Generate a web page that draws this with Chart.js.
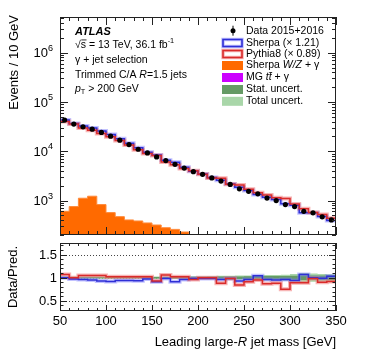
<!DOCTYPE html>
<html>
<head>
<meta charset="utf-8">
<script src="https://cdn.jsdelivr.net/npm/chart.js@4.4.1/dist/chart.umd.min.js"></script>
<style>
  body { margin: 0; background: #fff; }
  #wrap { position: relative; width: 374px; height: 359px; }
  canvas { position: absolute; left: 0; }
  #main { top: 0; }
  #ratio { top: 240px; }
</style>
</head>
<body>
<div id="wrap">
  <canvas id="main" width="374" height="240"></canvas>
  <canvas id="ratio" width="374" height="119"></canvas>
</div>
<script>
// binning (GeV)
const binEdges = [50, 60, 70, 80, 90, 100, 110, 120, 130, 140, 150, 160, 170, 180, 190, 200,
                  210, 220, 230, 240, 250, 260, 270, 280, 290, 300, 310, 320, 330, 340, 350];
const binCenters = [55, 65, 75, 85, 95, 105, 115, 125, 135, 145, 155, 165, 175, 185, 195,
                    205, 215, 225, 235, 245, 255, 265, 275, 285, 295, 305, 315, 325, 335, 345];

// events / 10 GeV
const dataCounts = [42900, 35600, 31300, 28100, 24100, 20200, 16800, 13700, 11000, 9240,
                    7660, 6460, 5430, 4560, 3850, 3400, 2880, 2480, 2120, 1730,
                    1540, 1370, 1125, 1000, 828, 755, 605, 564, 467, 404];
const sherpaPred = [42900, 36700, 32600, 29580, 25910, 21960, 17870, 14570, 11760, 9530,
                    8420, 6590, 5970, 4750, 3930, 3470, 2940, 2580, 2160, 1860,
                    1600, 1320, 1170, 1050, 860, 800, 565, 564, 472, 392];
const pythiaPred = [40090, 35600, 29810, 26760, 22950, 19800, 16470, 13430, 10780, 9060,
                    8240, 6090, 5320, 4470, 4010, 3400, 2880, 2820, 2150, 2060,
                    1690, 1440, 1290, 1140, 1100, 850, 680, 573, 519, 439];
// Sherpa W/Z + gamma, bins 50..200
const wzGamma = [605, 755, 1115, 1225, 828, 569, 471, 404, 385, 351, 319, 281, 260, 230, 202];

// Data / Pred.
const ratioSherpa = [1.00, 0.97, 0.96, 0.95, 0.93, 0.92, 0.94, 0.94, 0.935, 0.97,
                     0.91, 0.98, 0.91, 0.96, 0.98, 0.98, 0.98, 0.96, 0.98, 0.93,
                     0.96, 1.04, 0.96, 0.95, 0.96, 0.94, 1.07, 1.00, 0.99, 1.03];
const ratioPythia = [1.07, 1.00, 1.05, 1.05, 1.05, 1.02, 1.02, 1.02, 1.02, 1.02,
                     0.93, 1.06, 1.02, 1.02, 0.96, 1.00, 1.00, 0.88, 0.985, 0.84,
                     0.91, 0.95, 0.87, 0.88, 0.75, 0.89, 0.89, 0.985, 0.90, 0.92];
const statErr = [0.01, 0.01, 0.01, 0.01, 0.01, 0.01, 0.01, 0.012, 0.012, 0.014,
                 0.015, 0.016, 0.017, 0.018, 0.019, 0.02, 0.022, 0.024, 0.026, 0.028,
                 0.03, 0.032, 0.034, 0.036, 0.038, 0.042, 0.05, 0.048, 0.05, 0.052];
const totErr = [0.03, 0.025, 0.025, 0.025, 0.025, 0.022, 0.022, 0.022, 0.022, 0.022,
                0.025, 0.025, 0.027, 0.028, 0.03, 0.033, 0.036, 0.04, 0.042, 0.046,
                0.05, 0.055, 0.058, 0.06, 0.065, 0.08, 0.1, 0.09, 0.08, 0.075];

// axis ticks
const xTicks = [50, 100, 150, 200, 250, 300, 350];
const mainYTicks = [1e3, 1e4, 1e5, 1e6];
const ratioYTicks = [0.5, 1, 1.5];

const FONT = "'Liberation Sans', Arial, Helvetica, sans-serif";
const BLUE = '#2f2fd6', BLUE_L = 'rgba(120,120,255,0.45)';
const RED = '#d92b2b', RED_L = 'rgba(240,120,120,0.55)';
const ORANGE = '#ff6a00', PURPLE = '#cc00ff';
const GREEN_D = '#659a65', GREEN_L = '#a9d6a9';

function steps(vals) {
  const pts = vals.map((v, i) => ({ x: binEdges[i], y: v }));
  pts.push({ x: binEdges[vals.length], y: vals[vals.length - 1] });
  return pts;
}

// text with italic / bold / sup / sub / overline pieces
function rich(ctx, x, y, parts, size, align) {
  let total = 0;
  const items = parts.map(([t, s]) => {
    s = s || {};
    const small = s.sup || s.sub;
    const fs = small ? size * 0.7 : size;
    const font = (s.i ? 'italic ' : '') + (s.b ? 'bold ' : '') + fs + 'px ' + FONT;
    ctx.font = font;
    const w = ctx.measureText(t).width;
    total += w;
    return { t, font, w, s, dy: s.sup ? -size * 0.42 : s.sub ? size * 0.32 : 0 };
  });
  let cx = align === 'right' ? x - total : align === 'center' ? x - total / 2 : x;
  ctx.textAlign = 'left';
  ctx.textBaseline = 'middle';
  items.forEach(it => {
    ctx.font = it.font;
    ctx.fillText(it.t, cx, y + it.dy);
    if (it.s.over) {
      ctx.fillRect(cx + 0.5, y - size * 0.52, it.w, 0.8);
    }
    cx += it.w;
  });
  return total;
}

function frameAndTicks(ctx, ca, x, y, yTicks, opt) {
  ctx.save();
  ctx.strokeStyle = '#222';
  ctx.lineWidth = 1;
  ctx.beginPath();
  for (let v = 50; v <= 350; v += 10) {
    const px = Math.round(x.getPixelForValue(v)) + 0.5;
    const len = v % 50 === 0 ? opt.xMajor : opt.xMinor;
    ctx.moveTo(px, ca.bottom); ctx.lineTo(px, ca.bottom - len);
    ctx.moveTo(px, ca.top); ctx.lineTo(px, ca.top + len);
  }
  yTicks.forEach(t => {
    const py = Math.round(y.getPixelForValue(t.v)) + 0.5;
    const len = t.major ? opt.yMajor : opt.yMinor;
    ctx.moveTo(ca.left, py); ctx.lineTo(ca.left + len, py);
    ctx.moveTo(ca.right, py); ctx.lineTo(ca.right - len, py);
  });
  ctx.stroke();
  ctx.strokeRect(Math.round(ca.left) + 0.5, Math.round(ca.top) + 0.5,
                 Math.round(ca.right - ca.left) - 1, Math.round(ca.bottom - ca.top) - 1);
  ctx.restore();
}

const mainDecor = {
  id: 'mainDecor',
  afterDraw(chart) {
    const { ctx, chartArea: ca, scales: { x, y } } = chart;
    const yt = [];
    for (let d = 100; d <= 1e6; d *= 10) {
      for (let m = 1; m <= 9; m++) {
        const v = m * d;
        if (v >= y.min && v <= y.max) yt.push({ v, major: m === 1 });
      }
    }
    frameAndTicks(ctx, ca, x, y, yt, { xMajor: 8, xMinor: 4, yMajor: 8, yMinor: 4 });

    ctx.save();
    ctx.fillStyle = '#000';
    mainYTicks.forEach(v => {
      const py = y.getPixelForValue(v);
      rich(ctx, 53, py + 1, [['10'], [String(Math.round(Math.log10(v))), { sup: true }]], 13, 'right');
    });
    // y title
    ctx.save();
    ctx.translate(14, 15);
    ctx.rotate(-Math.PI / 2);
    rich(ctx, 0, 0, [['Events / 10 GeV']], 13, 'right');
    ctx.restore();

    // labels
    const lx = 75;
    rich(ctx, lx, 32, [['ATLAS', { i: true, b: true }]], 11);
    rich(ctx, lx, 45, [['√'], ['s', { over: true }], [' = 13 TeV, 36.1 fb'], ['-1', { sup: true }]], 10.5);
    rich(ctx, lx, 60.5, [['γ + jet selection']], 10.5);
    rich(ctx, lx, 75, [['Trimmed C/A '], ['R', { i: true }], ['=1.5 jets']], 10.5);
    rich(ctx, lx, 89, [['p', { i: true }], ['T', { sub: true }], [' > 200 GeV']], 10.5);

    // legend
    const bx = 223, bw = 19, bh = 7, tx = 246;
    const rows = [30.7, 43, 54, 65.5, 77.5, 89.5, 101.3];
    ctx.fillStyle = '#000';
    ctx.beginPath(); ctx.arc(233, rows[0], 2.5, 0, Math.PI * 2); ctx.fill();
    ctx.fillRect(232.5, rows[0] - 5, 1, 10);
    rich(ctx, tx, rows[0], [['Data 2015+2016']], 10.5);

    [[BLUE, BLUE_L, 'Sherpa (× 1.21)'], [RED, RED_L, 'Pythia8 (× 0.89)']].forEach(([c, cl, label], k) => {
      const ry = rows[k + 1];
      ctx.strokeStyle = cl; ctx.lineWidth = 3.5;
      ctx.strokeRect(bx, ry - bh / 2, bw, bh);
      ctx.strokeStyle = c; ctx.lineWidth = 1.6;
      ctx.strokeRect(bx, ry - bh / 2, bw, bh);
      ctx.fillStyle = '#000';
      rich(ctx, tx, ry, [[label]], 10.5);
    });
    const filled = [
      [ORANGE, [['Sherpa '], ['W/Z', { i: true }], [' + γ']]],
      [PURPLE, [['MG '], ['t', { i: true }], ['t', { i: true, over: true }], [' + γ']]],
      [GREEN_D, [['Stat. uncert.']]],
      [GREEN_L, [['Total uncert.']]]
    ];
    filled.forEach(([c, parts], k) => {
      const ry = rows[k + 3];
      ctx.fillStyle = c;
      ctx.fillRect(bx - 1, ry - bh / 2 - 1, bw + 2, bh + 2);
      ctx.fillStyle = '#000';
      rich(ctx, tx, ry, parts, 10.5);
    });
    ctx.restore();
  }
};

const ratioDecor = {
  id: 'ratioDecor',
  beforeDatasetsDraw(chart) {
    const { ctx, chartArea: ca, scales: { y } } = chart;
    ctx.save();
    ctx.strokeStyle = '#444';
    ctx.lineWidth = 1;
    ctx.setLineDash([1, 2]);
    ratioYTicks.forEach(v => {
      const py = Math.round(y.getPixelForValue(v)) + 0.5;
      ctx.beginPath(); ctx.moveTo(ca.left, py); ctx.lineTo(ca.right, py); ctx.stroke();
    });
    ctx.restore();
  },
  afterDraw(chart) {
    const { ctx, chartArea: ca, scales: { x, y } } = chart;
    const yt = [];
    for (let k = 3; k <= 17; k++) {
      const v = k / 10;
      yt.push({ v, major: k % 5 === 0 });
    }
    frameAndTicks(ctx, ca, x, y, yt, { xMajor: 6, xMinor: 3, yMajor: 7, yMinor: 3.5 });
    ctx.save();
    ctx.fillStyle = '#000';
    ratioYTicks.forEach(v => {
      rich(ctx, 57, y.getPixelForValue(v) + 1, [[String(v)]], 13, 'right');
    });
    xTicks.forEach(v => {
      rich(ctx, x.getPixelForValue(v), 81, [[String(v)]], 13, 'center');
    });
    rich(ctx, 336, 102, [['Leading large-'], ['R', { i: true }], [' jet mass [GeV]']], 13, 'right');
    ctx.translate(13, 37);
    ctx.rotate(-Math.PI / 2);
    rich(ctx, 0, 0, [['Data/Pred.']], 13, 'center');
    ctx.restore();
  }
};

const lineDs = (data, color, width, order) => ({
  data, borderColor: color, borderWidth: width, stepped: true,
  pointRadius: 0, fill: false, order
});

new Chart(document.getElementById('main'), {
  type: 'line',
  data: {
    datasets: [
      {
        label: 'Data 2015+2016',
        data: binCenters.map((c, i) => ({ x: c, y: dataCounts[i] })),
        showLine: false, pointRadius: 2.6, pointBorderWidth: 0,
        pointBackgroundColor: '#000', order: 0
      },
      lineDs(steps(pythiaPred), RED, 1.5, 1),
      lineDs(steps(sherpaPred), BLUE, 1.5, 2),
      lineDs(steps(pythiaPred), RED_L, 4, 3),
      lineDs(steps(sherpaPred), BLUE_L, 4, 4),
      {
        label: 'Sherpa W/Z + gamma',
        data: steps(wzGamma), stepped: true, pointRadius: 0,
        borderColor: '#ff8a3a', borderWidth: 1, backgroundColor: ORANGE,
        fill: 'start', order: 5
      }
    ]
  },
  options: {
    responsive: false,
    devicePixelRatio: 1,
    animation: false,
    events: [],
    layout: { padding: { left: 60, right: 38, top: 17, bottom: 5 } },
    scales: {
      x: { type: 'linear', min: 50, max: 350, display: false },
      y: { type: 'logarithmic', min: 200, max: 5.3e6, display: false }
    },
    plugins: { legend: { display: false }, tooltip: { enabled: false } }
  },
  plugins: [mainDecor]
});

new Chart(document.getElementById('ratio'), {
  type: 'line',
  data: {
    datasets: [
      lineDs(steps(ratioPythia), RED, 1.5, 0),
      lineDs(steps(ratioSherpa), BLUE, 1.5, 1),
      lineDs(steps(ratioPythia), RED_L, 4, 2),
      lineDs(steps(ratioSherpa), BLUE_L, 4, 3),
      { data: steps(statErr.map(e => 1 + e)), stepped: true, pointRadius: 0, borderWidth: 0,
        backgroundColor: GREEN_D, fill: '+1', order: 4 },
      { data: steps(statErr.map(e => 1 - e)), stepped: true, pointRadius: 0, borderWidth: 0,
        fill: false, order: 4 },
      { data: steps(totErr.map(e => 1 + e)), stepped: true, pointRadius: 0, borderWidth: 0,
        backgroundColor: GREEN_L, fill: '+1', order: 5 },
      { data: steps(totErr.map(e => 1 - e)), stepped: true, pointRadius: 0, borderWidth: 0,
        fill: false, order: 5 }
    ]
  },
  options: {
    responsive: false,
    devicePixelRatio: 1,
    animation: false,
    events: [],
    layout: { padding: { left: 60, right: 38, top: 3, bottom: 48 } },
    scales: {
      x: { type: 'linear', min: 50, max: 350, display: false },
      y: { type: 'linear', min: 0.28, max: 1.75, display: false }
    },
    plugins: { legend: { display: false }, tooltip: { enabled: false } }
  },
  plugins: [ratioDecor]
});
</script>
</body>
</html>
